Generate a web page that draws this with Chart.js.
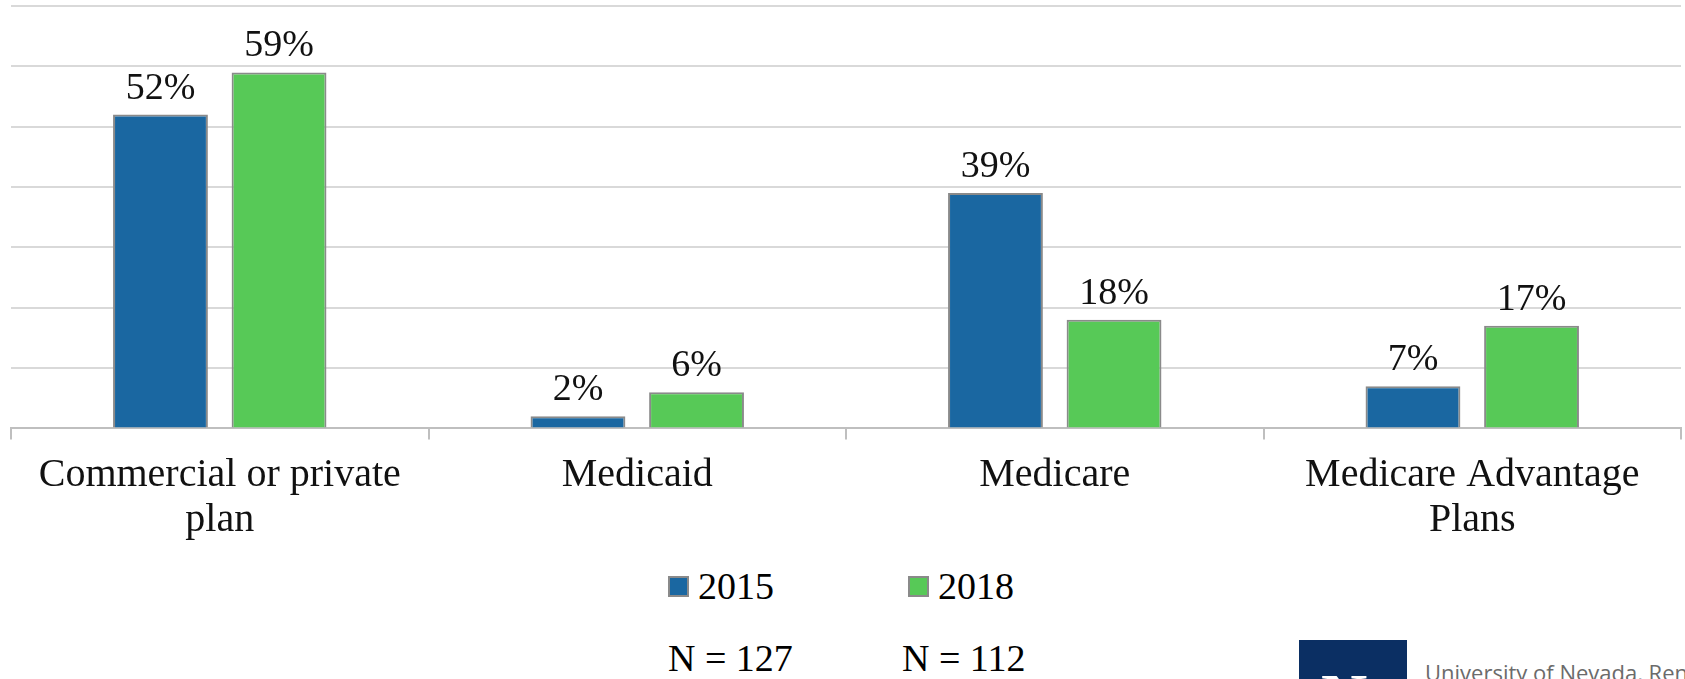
<!DOCTYPE html>
<html lang="en">
<head>
    <meta charset="UTF-8">
    <title>Insurance Plans 2015 vs 2018</title>
    <script src="https://cdn.jsdelivr.net/npm/chart.js@4.4.0/dist/chart.umd.min.js"></script>
    <style>
        body { margin: 0; width: 1685px; height: 679px; overflow: hidden; background: #fff; position: relative; font-family: "Liberation Serif", serif; }
        #wrap { position: absolute; left: 0; top: 0; width: 1685px; height: 565px; }
        #legend { position: absolute; left: 668px; top: 566px; display: flex; font-size: 38px; line-height: 40px; }
        #legend .item { display: flex; align-items: center; width: 240px; }
        #legend .box { width: 17px; height: 17px; border: 2px solid #8a8a8a; margin-right: 9px; }
        #counts { position: absolute; left: 668px; top: 638px; display: flex; font-size: 38px; line-height: 40px; }
        #counts span { width: 234px; }
        #logo { position: absolute; left: 1299px; top: 640px; width: 108px; height: 60px; background: #0b2f63; overflow: hidden; }
        #logo b { position: absolute; left: 22px; top: 20px; color: #fff; font: bold 64px "Liberation Serif", serif; }
        #uni { position: absolute; left: 1425px; top: 657px; font: 22px "Open Sans", sans-serif; color: #6b6b6b; white-space: nowrap; }
    </style>
</head>
<body>
<div id="wrap"><canvas id="plans"></canvas></div>
<div id="legend"></div>
<div id="counts"></div>
<div id="logo"><b>N</b></div>
<div id="uni">University of Nevada, Reno</div>
<script>
    var categories = [['Commercial or private', 'plan'], 'Medicaid', 'Medicare', ['Medicare Advantage', 'Plans']];
    var years = ['2015', '2018'];
    var values2015 = [52, 2, 39, 7];
    var values2018 = [59, 6, 18, 17];
    var sampleSizes = [127, 112];
    var colors = ['#1a67a1', '#57c957'];

    var serif = '"Liberation Serif", serif';

    // value labels above each bar
    var barValues = {
        id: 'barValues',
        afterDatasetsDraw: function(chart) {
            var ctx = chart.ctx;
            ctx.save();
            ctx.font = '38px ' + serif;
            ctx.fillStyle = '#111';
            ctx.textAlign = 'center';
            ctx.textBaseline = 'alphabetic';
            chart.data.datasets.forEach(function(ds, i) {
                chart.getDatasetMeta(i).data.forEach(function(bar, j) {
                    ctx.fillText(ds.data[j] + '%', bar.x, bar.y - 16);
                });
            });
            ctx.restore();
        }
    };

    var ctx = document.getElementById('plans').getContext('2d');
    var config = {
        type: 'bar',
        data: {
            labels: categories,
            datasets: [{
                label: years[0],
                data: values2015,
                backgroundColor: colors[0],
                borderColor: '#8a8a8a',
                borderWidth: 2
            }, {
                label: years[1],
                data: values2018,
                backgroundColor: colors[1],
                borderColor: '#8a8a8a',
                borderWidth: 2
            }]
        },
        options: {
            responsive: true,
            maintainAspectRatio: false,
            animation: false,
            categoryPercentage: 0.568,
            barPercentage: 0.8,
            layout: { padding: { left: 11, right: 4, top: 6, bottom: 8 } },
            plugins: {
                legend: { display: false },
                tooltip: { enabled: false }
            },
            scales: {
                x: {
                    grid: { offset: true, drawOnChartArea: false, drawTicks: true, tickLength: 11, color: '#bfbfbf', lineWidth: 2 },
                    border: { color: '#bfbfbf', width: 2 },
                    ticks: { color: '#111', padding: 14, font: { family: serif, size: 40, lineHeight: 1.12 }, maxRotation: 0, autoSkip: false }
                },
                y: {
                    min: 0,
                    max: 70,
                    ticks: { display: false, stepSize: 10 },
                    grid: { color: '#d9d9d9', lineWidth: 2, drawTicks: false },
                    border: { display: false }
                }
            }
        },
        plugins: [barValues]
    };
    window.plansChart = new Chart(ctx, config);

    // html legend built from the chart's own legend items
    var legendEl = document.getElementById('legend');
    Chart.defaults.plugins.legend.labels.generateLabels(window.plansChart).forEach(function(item) {
        var div = document.createElement('div');
        div.className = 'item';
        var box = document.createElement('span');
        box.className = 'box';
        box.style.background = item.fillStyle;
        div.appendChild(box);
        div.appendChild(document.createTextNode(item.text));
        legendEl.appendChild(div);
    });

    var countsEl = document.getElementById('counts');
    sampleSizes.forEach(function(n) {
        var s = document.createElement('span');
        s.textContent = 'N = ' + n;
        countsEl.appendChild(s);
    });
</script>
</body>
</html>
